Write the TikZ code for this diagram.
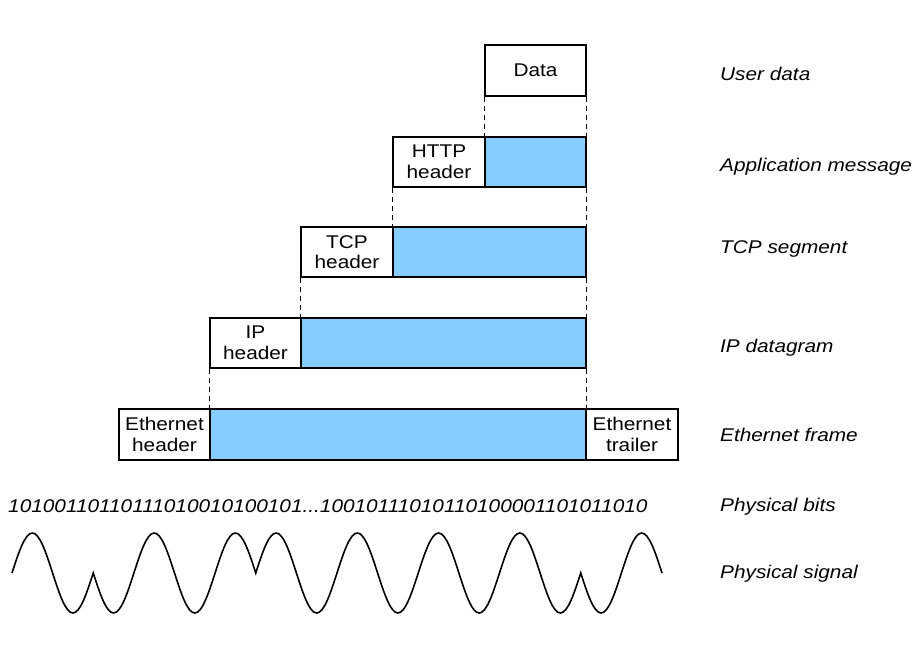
\documentclass[tikz,border=0pt]{standalone}
\usepackage{fontspec}
\setmainfont{Liberation Sans}[FakeStretch=1.13]
\definecolor{pktblue}{RGB}{135,204,255}
\begin{document}
\begin{tikzpicture}[x=1pt,y=-1pt,
  every node/.style={font=\fontsize{18.4}{20.5}\selectfont},
  hdr/.style={draw, line width=1.2pt, fill=white, minimum height=50pt, inner sep=0pt, align=center, minimum width=92pt},
  pay/.style={draw, line width=1.2pt, fill=pktblue, minimum height=50pt, inner sep=0pt},
  lbl/.style={anchor=base west, inner sep=0pt, font=\fontsize{18.4}{20.5}\selectfont\itshape},
  dsh/.style={dashed, dash pattern=on 5pt off 4pt, line width=1pt},
  wave/.style={line width=1.6pt}]
\useasboundingbox (0,0) rectangle (914,657);

% boxes
\node[hdr, minimum width=101pt, minimum height=51pt] (data) at (535.5,70.5) {Data};
\node[hdr] (httph) at (439,162) {HTTP\\header};
\node[pay, minimum width=101pt] (httpp) at (535.5,162) {};
\node[hdr] (tcph) at (347,252) {TCP\\header};
\node[pay, minimum width=193pt] (tcpp) at (489.5,252) {};
\node[hdr, minimum width=91pt] (iph) at (255.5,343) {IP\\header};
\node[pay, minimum width=285pt] (ipp) at (443.5,343) {};
\node[hdr, minimum width=91pt, minimum height=51pt] (ethh) at (164.5,434.5) {Ethernet\\header};
\node[pay, minimum width=376pt, minimum height=51pt] (ethp) at (398,434.5) {};
\node[hdr, minimum height=51pt] (etht) at (632,434.5) {Ethernet\\trailer};

% dashed guides
\draw[dsh] (data.south west) -- (httpp.north west);
\draw[dsh] (data.south east) -- (httpp.north east);
\draw[dsh] (httph.south west) -- (tcpp.north west);
\draw[dsh] (httpp.south east) -- (tcpp.north east);
\draw[dsh] (tcph.south west) -- (ipp.north west);
\draw[dsh] (tcpp.south east) -- (ipp.north east);
\draw[dsh] (iph.south west) -- (ethp.north west);
\draw[dsh] (ipp.south east) -- (ethp.north east);

% labels
\node[lbl] (l1) at (720,80.5) {User data};
\node[lbl] (l2) at (720,171.5) {Application message};
\node[lbl] (l3) at (720,253) {TCP segment};
\node[lbl] (l4) at (720,352) {IP datagram};
\node[lbl] (l5) at (720,441.5) {Ethernet frame};
\node[lbl] (l6) at (720,511.5) {Physical bits};
\node[lbl] (l7) at (720,578) {Physical signal};

% bits
\node[lbl] (bits) at (8,512) {10100110110111010010100101...10010111010110100001101011010};

% signal
\draw[wave] (12,573)
  sin (32.3,533) cos (52.6,573) sin (72.9,613) cos (93.25,573)
  sin (113.6,613) cos (133.9,573) sin (154.2,533) cos (174.5,573)
  sin (194.8,613) cos (215.1,573) sin (235.4,533) cos (255.75,573)
  sin (276.1,533) cos (296.4,573) sin (316.7,613) cos (337,573)
  sin (357.3,533) cos (377.6,573) sin (397.9,613) cos (418.25,573)
  sin (438.6,533) cos (458.9,573) sin (479.2,613) cos (499.5,573)
  sin (519.8,533) cos (540.1,573) sin (560.4,613) cos (580.75,573)
  sin (601.1,613) cos (621.4,573) sin (641.7,533) cos (662,573);
\end{tikzpicture}
\end{document}
